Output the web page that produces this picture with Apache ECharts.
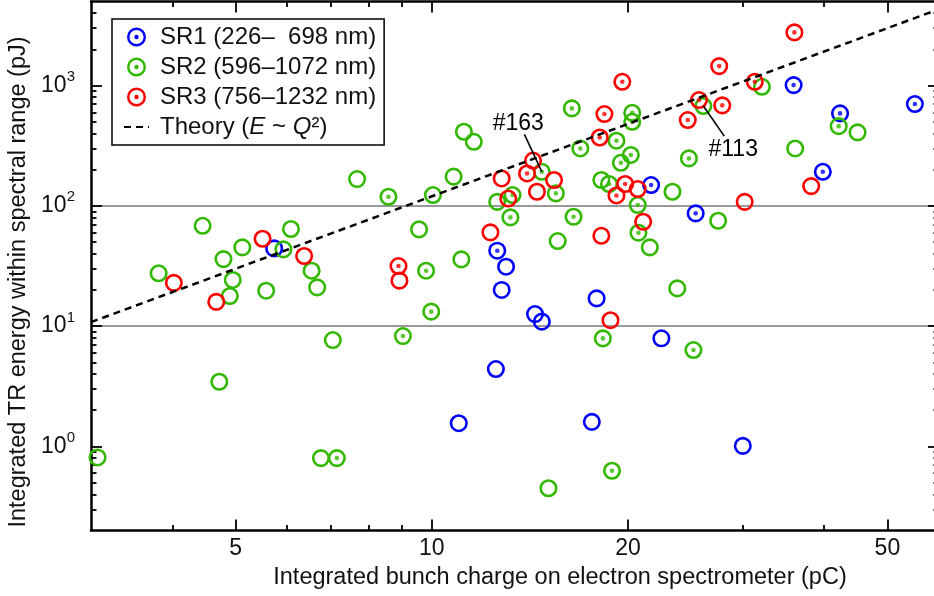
<!DOCTYPE html>
<html>
<head>
<meta charset="utf-8">
<script src="https://cdn.jsdelivr.net/npm/echarts@6/dist/echarts.min.js"></script>
<style>
  html, body { margin: 0; padding: 0; background: #fff; }
  #chart { width: 934px; height: 596px; }
</style>
</head>
<body>
<div id="chart"></div>
<script>
// Each shot: [bunch charge Q (pC), integrated TR energy E (pJ), centre dot flag]
const sr1Points = [
  [5.73, 44.3, 0], [12.6, 42.4, 1], [13.0, 31.2, 0], [12.8, 20.0, 0],
  [14.4, 12.6, 0], [14.75, 10.9, 0], [17.9, 17.0, 0], [12.54, 4.4, 0],
  [11.0, 1.56, 0], [17.6, 1.60, 0], [30.0, 1.01, 0], [22.5, 7.92, 0],
  [35.9, 1009, 1], [55.1, 702, 1], [42.3, 587, 1], [39.8, 192, 1],
  [21.7, 149, 1], [25.4, 86.6, 1]
];
const sr2Points = [
  [3.07, 0.81, 0], [3.81, 27.5, 0], [4.45, 68.3, 0], [4.79, 36.1, 0],
  [5.12, 45.2, 0], [4.95, 24.2, 0], [4.90, 17.8, 0], [5.57, 19.7, 0],
  [6.08, 64.2, 0], [5.92, 43.5, 0], [6.54, 28.9, 0], [6.67, 21.0, 0],
  [4.72, 3.45, 0], [6.76, 0.80, 0], [7.15, 0.80, 1], [7.05, 7.66, 0],
  [9.03, 8.27, 1], [9.98, 13.2, 1], [9.80, 28.9, 1], [9.56, 63.8, 0],
  [11.1, 35.9, 0], [7.68, 167, 0], [8.58, 119, 1], [10.04, 123, 0],
  [10.8, 175, 0], [11.2, 413, 0], [11.6, 341, 0], [12.6, 108, 0],
  [13.3, 123, 1], [13.2, 80.2, 1], [16.5, 81.2, 1], [15.6, 51.0, 0],
  [15.5, 127, 1], [14.75, 192, 1], [16.4, 646, 1], [16.9, 300, 1],
  [18.2, 164, 0], [18.7, 152, 1], [19.2, 348, 1], [19.5, 228, 1],
  [20.2, 265, 1], [20.3, 594, 1], [20.3, 500, 1], [20.7, 101.6, 1],
  [20.75, 59.8, 1], [21.6, 45.2, 0], [23.4, 131, 0], [24.8, 248, 1],
  [26.1, 676, 0], [32.1, 977, 0], [36.1, 300, 0], [42.1, 460, 1],
  [45.0, 408, 0], [27.5, 75.2, 0], [23.8, 20.6, 0], [25.2, 6.33, 1],
  [18.3, 7.91, 1], [18.9, 0.628, 1], [15.1, 0.449, 0]
];
const sr3Points = [
  [4.02, 22.9, 0], [4.67, 15.9, 0], [5.50, 53.3, 0], [6.37, 38.3, 0],
  [8.89, 31.6, 1], [8.92, 23.9, 0], [12.3, 60.2, 0], [18.2, 56.4, 0],
  [18.8, 11.2, 0], [21.1, 73.8, 0], [30.2, 108, 0], [38.2, 146, 0],
  [36.0, 2768, 1], [27.6, 1452, 1], [19.6, 1075, 1], [31.3, 1075, 1],
  [25.7, 758, 1], [27.9, 685, 1], [24.7, 517, 1], [18.4, 580, 1],
  [18.1, 370, 1], [14.3, 238, 0], [14.0, 186, 1], [12.8, 169, 0],
  [15.4, 164, 0], [13.1, 115, 0], [14.5, 131, 0], [19.2, 122, 1],
  [19.8, 152, 1], [20.7, 138, 0]
];

// Theory curve E ~ Q^2, given by its two end points
const theoryCharge = [3, 60];
const theoryEnergy = [10.8, 4320];

// Labelled shots: text position, start of the leader and the shot it points at
const annotationNames = ['#163', '#113'];
const annotationText = [[13.57, 480], [29.0, 295]];
const annotationFrom = [[13.87, 393], [28.1, 380]];
const annotationTo = [[14.75, 192], [26.1, 676]];

const seriesNames = ['SR1 (226–  698 nm)', 'SR2 (596–1072 nm)', 'SR3 (756–1232 nm)'];
const theoryName = 'Theory (E ~ Q²)';

// Axis ranges and tick values
const xRange = [3, 60];
const yRange = [0.2, 5000];
const xMajorTicks = [5, 10, 20, 50];
const xMinorTicks = [4, 6, 7, 8, 9, 30, 40];
const yMajorTicks = [1, 10, 100, 1000];
const yMinorTicks = [0.3, 0.4, 0.5, 0.6, 0.7, 0.8, 0.9,
  2, 3, 4, 5, 6, 7, 8, 9,
  20, 30, 40, 50, 60, 70, 80, 90,
  200, 300, 400, 500, 600, 700, 800, 900,
  2000, 3000, 4000];

const FONT = '"Liberation Sans", Arial, Helvetica, sans-serif';
const INK = '#111';
const FS = 23;
const COLORS = ['#0000ff', '#33b800', '#ff0000'];
const RING_ICON = 'path://M10,0A10,10,0,1,1,10,20A10,10,0,1,1,10,0Z' +
  'M10,2.6A7.4,7.4,0,1,0,10,17.4A7.4,7.4,0,1,0,10,2.6Z' +
  'M10,7.7A2.3,2.3,0,1,1,10,12.3A2.3,2.3,0,1,1,10,7.7Z';

function xAxis(position, ticks, tickLen, withLabels) {
  return {
    type: 'log', logBase: 10, min: xRange[0], max: xRange[1],
    position: position, gridIndex: 0,
    axisLine: { show: withLabels !== null, onZero: false, lineStyle: { color: '#000', width: 2.5 } },
    axisTick: { show: true, inside: true, length: tickLen, customValues: ticks,
      lineStyle: { color: '#000', width: 1.8 } },
    axisLabel: withLabels ? {
      show: true, customValues: ticks, margin: 7,
      fontSize: FS, fontFamily: FONT, color: INK,
      formatter: v => String(v)
    } : { show: false },
    splitLine: { show: false },
    minorTick: { show: false },
    axisPointer: { show: false }
  };
}

function yAxis(position, ticks, tickLen, withLabels, withGrid) {
  return {
    type: 'log', logBase: 10, min: yRange[0], max: yRange[1],
    position: position, gridIndex: 0,
    axisLine: { show: withLabels !== null, onZero: false, lineStyle: { color: '#000', width: 2.5 } },
    axisTick: { show: true, inside: true, length: tickLen, customValues: ticks,
      lineStyle: { color: '#000', width: 1.8 } },
    axisLabel: withLabels ? {
      show: true, customValues: ticks, margin: 16,
      formatter: v => '{b|10}{s|' + Math.round(Math.log10(v)) + '}',
      rich: {
        b: { fontSize: FS, fontFamily: FONT, color: INK, lineHeight: 32 },
        s: { fontSize: 15, fontFamily: FONT, color: INK, lineHeight: 15, verticalAlign: 'top' }
      }
    } : { show: false },
    splitLine: withGrid ? { show: true, showMinLine: false, showMaxLine: false,
      lineStyle: { color: '#999', width: 2.2 } } : { show: false },
    minorTick: { show: false },
    axisPointer: { show: false }
  };
}

const xAxes = [
  Object.assign(xAxis('bottom', xMajorTicks, 11, true), {
    name: 'Integrated bunch charge on electron spectrometer (pC)',
    nameLocation: 'middle', nameGap: 33,
    nameTextStyle: { fontSize: 23.5, fontFamily: FONT, color: INK, padding: [0, 0, 0, 90] }
  }),
  xAxis('bottom', xMinorTicks, 5.5, null),
  xAxis('top', xMajorTicks, 11, false),
  xAxis('top', xMinorTicks, 5.5, null)
];
const yAxes = [
  Object.assign(yAxis('left', yMajorTicks, 11, true, true), {
    name: 'Integrated TR energy within spectral range (pJ)',
    nameLocation: 'middle', nameGap: 56,
    nameTextStyle: { fontSize: 23.5, fontFamily: FONT, color: INK, padding: [0, 32, 0, 0] }
  }),
  yAxis('left', yMinorTicks, 5.5, null, false),
  yAxis('right', yMajorTicks, 11, false, false),
  yAxis('right', yMinorTicks, 5.5, null, false)
];

const pointSets = [sr1Points, sr2Points, sr3Points];
const series = [];

pointSets.forEach((pts, i) => {
  series.push({
    type: 'scatter', name: seriesNames[i],
    data: pts.map(p => [p[0], p[1]]),
    symbol: 'circle', symbolSize: 15.5,
    itemStyle: { color: 'rgba(0,0,0,0)', borderColor: COLORS[i], borderWidth: 2.6, opacity: 1 },
    silent: true, z: 3
  });
  series.push({
    type: 'scatter', name: seriesNames[i] + ' centre',
    data: pts.filter(p => p[2] === 1).map(p => [p[0], p[1]]),
    symbol: 'circle', symbolSize: 4.6,
    itemStyle: { color: COLORS[i], borderWidth: 0 },
    silent: true, z: 3
  });
});

series.push({
  type: 'line', name: theoryName,
  data: theoryCharge.map((q, i) => [q, theoryEnergy[i]]),
  symbol: 'none', showSymbol: false,
  lineStyle: { color: '#000', width: 2.5, type: [7, 5] },
  itemStyle: { color: '#000' },
  silent: true, z: 4
});

annotationNames.forEach((label, i) => {
  series.push({
    type: 'line', name: label + ' leader',
    data: [annotationFrom[i], annotationTo[i]],
    symbol: 'none', showSymbol: false,
    lineStyle: { color: '#000', width: 1.6 },
    silent: true, z: 5
  });
  series.push({
    type: 'scatter', name: label,
    data: [annotationText[i]],
    symbolSize: 0.01, itemStyle: { color: '#000' },
    label: { show: true, position: 'inside', formatter: label, opacity: 1,
      fontSize: FS, fontFamily: FONT, color: '#000', textBorderWidth: 0 },
    silent: true, z: 5
  });
});

const chart = echarts.init(document.getElementById('chart'), null, { renderer: 'canvas' });
chart.setOption({
  animation: false,
  backgroundColor: '#fff',
  grid: { left: 91, right: -5, top: 1.5, bottom: 65.5, containLabel: false, outerBoundsMode: 'none' },
  xAxis: xAxes,
  yAxis: yAxes,
  legend: {
    orient: 'vertical', left: 112, top: 19,
    padding: [6, 8, 6, 11], itemGap: 6, itemWidth: 25, itemHeight: 19,
    backgroundColor: '#fff', borderColor: '#000', borderWidth: 1.5, borderRadius: 0,
    selectedMode: false, z: 10,
    textStyle: { fontSize: 24, fontFamily: FONT, color: INK, padding: [0, 0, 0, 6],
      rich: { i: { fontSize: 24, fontFamily: FONT, color: INK, fontStyle: 'italic' } } },
    formatter: name => name === theoryName ? 'Theory ({i|E} ~ {i|Q}²)' : name,
    data: [
      { name: seriesNames[0], icon: RING_ICON, itemStyle: { color: COLORS[0], borderWidth: 0 } },
      { name: seriesNames[1], icon: RING_ICON, itemStyle: { color: COLORS[1], borderWidth: 0 } },
      { name: seriesNames[2], icon: RING_ICON, itemStyle: { color: COLORS[2], borderWidth: 0 } },
      { name: theoryName, itemStyle: { opacity: 0 } }
    ]
  },
  series: series
});
</script>
</body>
</html>
